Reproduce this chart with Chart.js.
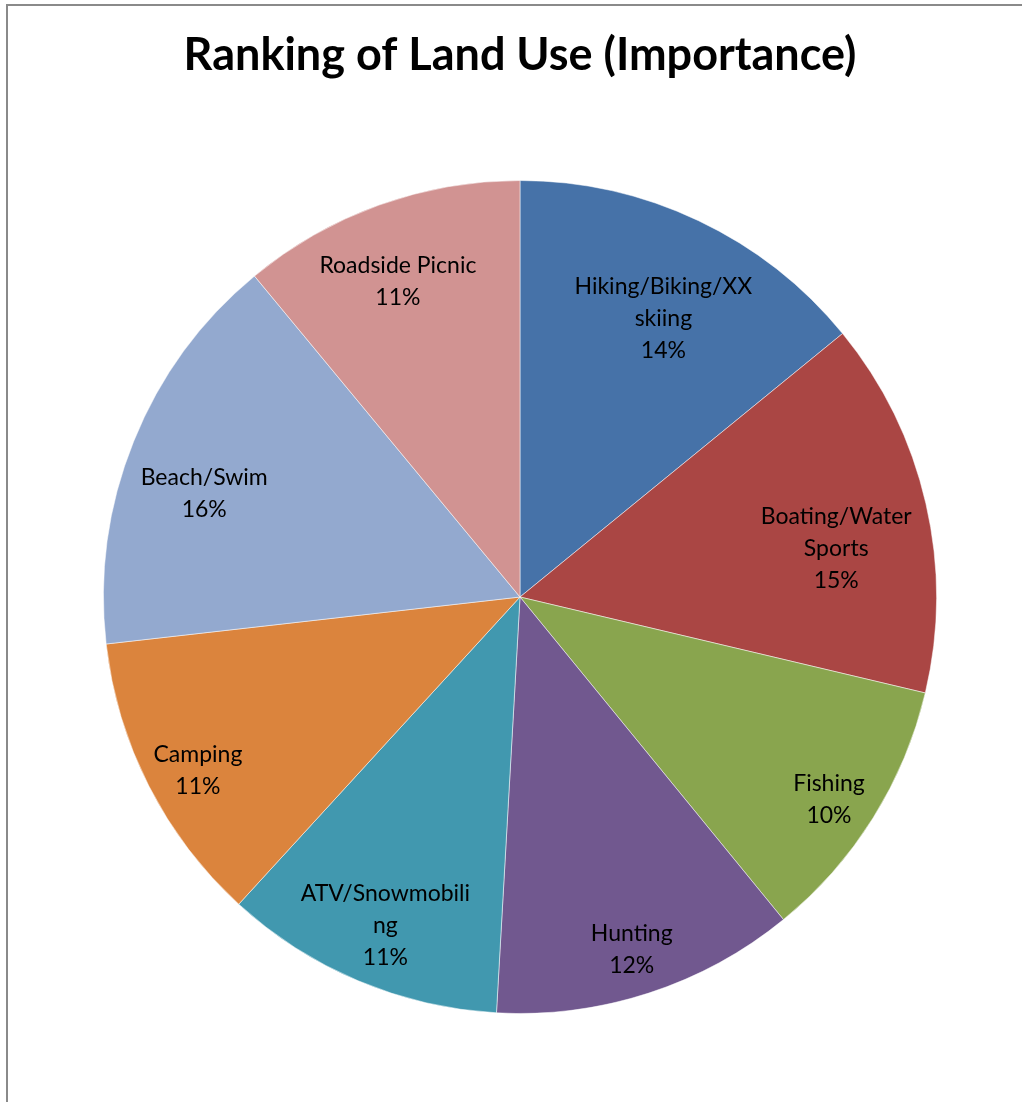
<!DOCTYPE html>
<html>
<head>
<meta charset="utf-8">
<script src="https://cdn.jsdelivr.net/npm/chart.js@4"></script>
<style>
  body { margin: 0; background: #fff; }
  #frame {
    position: absolute; left: 6px; top: 4px;
    width: 1014px; height: 1098px;
    border-left: 2px solid #8a8a8a; border-top: 2px solid #8a8a8a;
  }
</style>
</head>
<body>
<div id="frame"><canvas id="graficoPizza" width="1014" height="1098"></canvas></div>
<script>
const categorias = ['Hiking/Biking/XX skiing', 'Boating/Water Sports', 'Fishing', 'Hunting',
    'ATV/Snowmobiling', 'Camping', 'Beach/Swim', 'Roadside Picnic'];
const valores = [14.1, 14.6, 10.4, 11.8, 10.9, 11.4, 15.8, 11.0];
const cores = ['#4672A8', '#AA4644', '#89A54E', '#71588F', '#4198AF', '#DB843D', '#93A9CF', '#D19392'];

const fonte = 'Lato, "Open Sans", sans-serif';

// quebra o texto como o Excel: por palavra, e por letra se a palavra não cabe
function quebrar(ctx, texto, largura) {
    const linhas = [];
    let atual = '';
    texto.split(' ').forEach(function(palavra) {
        const teste = atual ? atual + ' ' + palavra : palavra;
        if (ctx.measureText(teste).width <= largura) {
            atual = teste;
            return;
        }
        if (atual) linhas.push(atual);
        atual = '';
        for (const c of palavra) {
            if (ctx.measureText(atual + c).width > largura && atual) {
                linhas.push(atual);
                atual = c;
            } else {
                atual += c;
            }
        }
    });
    if (atual) linhas.push(atual);
    return linhas;
}

const rotulos = {
    id: 'rotulos',
    afterDatasetsDraw(chart) {
        const ctx = chart.ctx;
        const meta = chart.getDatasetMeta(0);
        const total = valores.reduce((a, b) => a + b, 0);
        const alt = 32;
        ctx.save();
        ctx.font = '23px ' + fonte;
        ctx.fillStyle = '#000';
        ctx.textAlign = 'center';
        ctx.textBaseline = 'middle';
        meta.data.forEach(function(arc, i) {
            const p = arc.getProps(['x', 'y', 'startAngle', 'endAngle', 'outerRadius'], true);
            const meio = (p.startAngle + p.endAngle) / 2;
            const dx = Math.cos(meio), dy = Math.sin(meio);
            const desce = dy < 0 ? 20 : 5;
            const linhas = quebrar(ctx, categorias[i], 179);
            linhas.push(Math.round(valores[i] / total * 100) + '%');
            const larg = linhas.map(l => ctx.measureText(l).width / 2);
            const off = linhas.map((l, k) => (k - (linhas.length - 1) / 2) * alt + desce);
            // o mais longe possível do centro, com o texto dentro do círculo
            const limite = p.outerRadius - 12;
            const cabe = function(d) {
                return linhas.every(function(l, k) {
                    const x = Math.abs(dx * d) + larg[k];
                    const y = Math.max(Math.abs(dy * d + off[k] - alt / 2), Math.abs(dy * d + off[k] + alt / 2));
                    return Math.hypot(x, y) <= limite;
                });
            };
            let d = p.outerRadius;
            while (!cabe(d) && d > p.outerRadius * 0.4) d -= 1;
            linhas.forEach(function(l, k) {
                ctx.fillText(l, p.x + dx * d, p.y + dy * d + off[k] + 4);
            });
        });
        ctx.restore();
    }
};

const ctxPizza = document.getElementById('graficoPizza');
new Chart(ctxPizza, {
    type: 'pie',
    data: {
        labels: categorias,
        datasets: [{
            data: valores,
            backgroundColor: cores,
            borderColor: 'rgba(255,255,255,0.5)',
            borderWidth: 1
        }]
    },
    options: {
        responsive: false,
        animation: false,
        layout: {
            padding: { left: 95, right: 85, top: 0, bottom: 52 }
        },
        plugins: {
            legend: { display: false },
            tooltip: { enabled: false },
            title: {
                display: true,
                text: 'Ranking of Land Use (Importance)',
                color: '#000',
                font: { family: fonte, size: 45, weight: 'bold' },
                padding: { top: 22, bottom: 60 }
            }
        }
    },
    plugins: [rotulos]
});
</script>
</body>
</html>
